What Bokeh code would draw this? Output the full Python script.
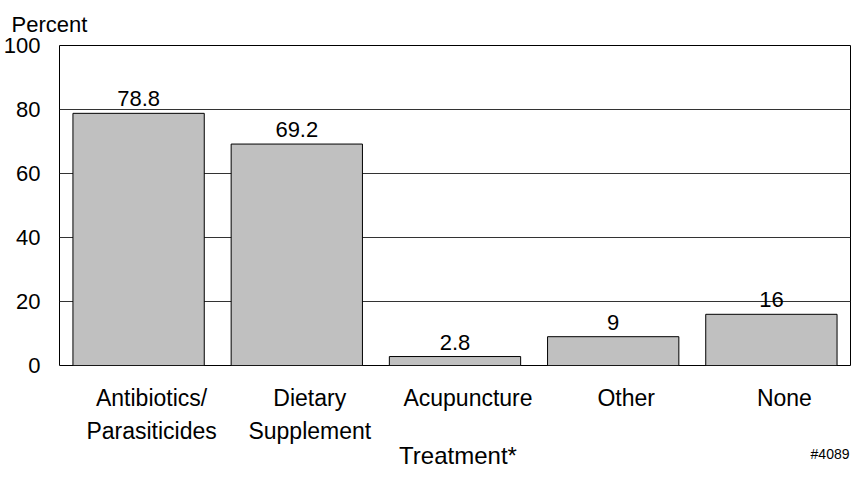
from bokeh.plotting import figure
from bokeh.layouts import column
from bokeh.models import ColumnDataSource, LabelSet, Label, Range1d, FixedTicker, Title
from bokeh.core.properties import value
from bokeh.embed import file_html
from bokeh.resources import INLINE

# ---- data ----
categories = ["Antibiotics/Parasiticides", "Dietary Supplement", "Acupuncture", "Other", "None"]
category_labels = ["Antibiotics/\nParasiticides", "Dietary\nSupplement", "Acupuncture", "Other", "None"]
percent = [78.8, 69.2, 2.8, 9, 16]
value_labels = ["78.8", "69.2", "2.8", "9", "16"]
y_ticks = [0, 20, 40, 60, 80, 100]
y_axis_title = "Percent"
x_axis_title = "Treatment*"
footnote = "#4089"

FONT = "Liberation Sans"
W = 851
BL, BR, BT, BB = 50, 1, 42, 14
FRAME_H = 323
H_MAIN = BT + FRAME_H + BB
H_FOOT = 467 - H_MAIN
n = len(categories)

src = ColumnDataSource(dict(cat=categories, pct=percent, vlab=value_labels))

p = figure(x_range=categories, y_range=Range1d(0, 100), width=W, height=H_MAIN,
           output_backend="svg", toolbar_location=None,
           min_border_left=BL, min_border_right=BR, min_border_top=BT, min_border_bottom=BB)

p.vbar(x="cat", top="pct", width=0.83, source=src, fill_color="#C0C0C0",
       line_color="black", line_width=1)

p.outline_line_color = "black"
p.outline_line_width = 1
p.xgrid.grid_line_color = None
p.ygrid.grid_line_color = "#333333"
p.ygrid.grid_line_width = 1

p.xaxis.visible = False
yax = p.yaxis[0]
yax.ticker = FixedTicker(ticks=y_ticks)
yax.axis_line_color = None
yax.major_tick_line_color = None
yax.minor_tick_line_color = None
yax.major_label_text_font = FONT
yax.major_label_text_font_size = "22px"
yax.major_label_text_color = "black"
yax.major_label_standoff = 13

# value labels above bars
p.add_layout(LabelSet(x="cat", y="pct", text="vlab", source=src, y_offset=7,
                      text_align="center", text_baseline="alphabetic",
                      text_font=value(FONT), text_font_size=value("22px"), text_color="black"))

p.title = Title(text=y_axis_title, align="left", offset=-48, standoff=18,
                text_font=FONT, text_font_size="22px", text_font_style="normal",
                text_color="black")

# footer strip: its frame is aligned with the chart frame by the column layout,
# so the synthetic category coordinates 0..n line up with the bars
f = figure(width=W, height=H_FOOT, x_range=Range1d(0, n), y_range=Range1d(0, H_FOOT),
           x_axis_type=None, y_axis_type=None, output_backend="svg", toolbar_location=None,
           min_border_left=BL, min_border_right=BR, min_border_top=0, min_border_bottom=0,
           outline_line_color=None)
fsrc = ColumnDataSource(dict(x=[i + 0.5 for i in range(n)], y=[H_FOOT - 5] * n,
                             t=category_labels))
f.text(x="x", y="y", text="t", source=fsrc, x_offset=13, text_align="center",
       text_baseline="top", text_line_height=1.3, text_font=value(FONT),
       text_font_size=value("23px"), text_color="black")
f.add_layout(Label(x=n / 2, y=12, x_offset=3, text=x_axis_title, text_align="center",
                   text_baseline="alphabetic", text_font=FONT, text_font_size="24px",
                   text_color="black"))
f.add_layout(Label(x=n, y=14, x_offset=-1, text=footnote, text_align="right",
                   text_baseline="alphabetic", text_font=FONT, text_font_size="14px",
                   text_color="black"))

open("out.html", "w").write(file_html(column(p, f, spacing=0), INLINE))
